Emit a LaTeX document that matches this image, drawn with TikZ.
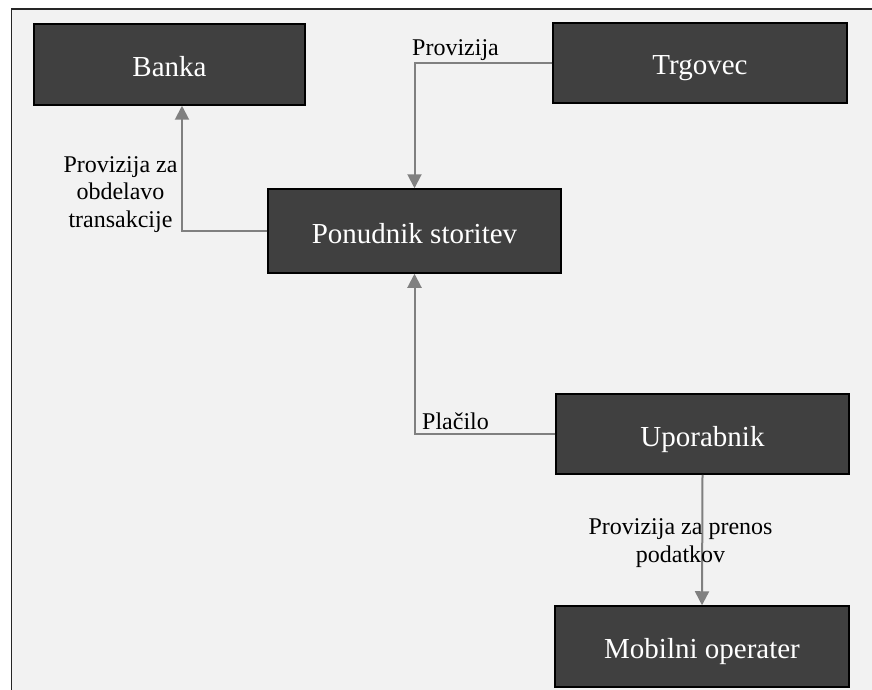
\documentclass[tikz,border=0pt]{standalone}
\usepackage{fontspec}
\setmainfont{Liberation Serif}
\usetikzlibrary{arrows.meta}
\definecolor{panel}{HTML}{F2F2F2}
\definecolor{boxfill}{HTML}{404040}
\definecolor{flow}{HTML}{808080}
\begin{document}
\begin{tikzpicture}[x=1pt,y=1pt,
  party/.style={draw=black,line width=1.5pt,fill=boxfill,text=white,
    minimum width=293pt,minimum height=81pt,inner sep=0pt,
    text height=24pt,text depth=0pt,
    font=\fontsize{29}{34}\selectfont},
  money/.style={draw=flow,line width=2pt,
    -{Triangle[length=14pt,width=14pt]}},
  tag/.style={text=black,inner sep=0pt,align=center,
    font=\fontsize{24}{27.5}\selectfont}]
  \useasboundingbox (0,0) rectangle (872,-690);
  % panel behind the diagram
  \fill[white] (0,0) rectangle (872,-690);
  \draw[panel,fill=panel] (11.5,-9) rectangle (885,-700);
  \draw[black!85,line width=1.8pt] (11.5,-705) -- (11.5,-9) -- (885,-9);

  % parties
  \node[party,minimum width=271pt] (banka) at (169.5,-64.5) {Banka};
  \node[party,minimum width=294pt,minimum height=80pt] (trgovec) at (700,-63) {Trgovec};
  \node[party,minimum height=84pt] (ponudnik) at (414.5,-231) {Ponudnik storitev};
  \node[party,minimum height=80pt] (uporabnik) at (702.5,-434) {Uporabnik};
  \node[party,minimum width=294pt] (mobilni) at (702,-646.5) {Mobilni operater};

  % payment flows
  \draw[money] (trgovec.west) -| (ponudnik.north);
  \draw[money] (ponudnik.west) -| ([xshift=12.5pt]banka.south);
  \draw[money] (uporabnik.west) -| (ponudnik.south);
  \draw[money] (uporabnik.south) -- (mobilni.north);

  % flow labels
  \node[tag,anchor=west] (l1) at (412,-50) {Provizija};
  \node[tag] (l2) at (120.5,-194.5) {Provizija za\\obdelavo\\transakcije};
  \node[tag,anchor=west] (l3) at (422,-421) {Plačilo};
  \node[tag] (l4) at (680.5,-543) {Provizija za prenos\\podatkov};
\end{tikzpicture}
\end{document}
